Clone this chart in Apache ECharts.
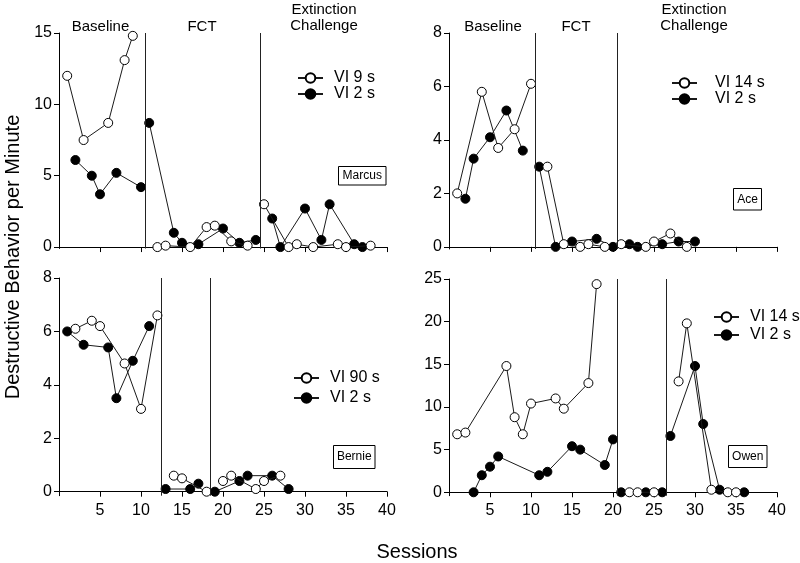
<!DOCTYPE html>
<html>
<head>
<meta charset="utf-8">
<script src="https://cdn.jsdelivr.net/npm/echarts@6/dist/echarts.min.js"></script>
<style>html,body{margin:0;padding:0;background:#fff}#c{width:800px;height:563px}</style>
</head>
<body>
<div id="c"></div>
<script>
// ---- data: [session, destructive behavior per minute] ----
const marcusVI9 = [[1,12.0],[3,7.5],[6,8.7],[8,13.1],[9,14.8],[12,0],[13,0.1],[16,0],[18,1.4],[19,1.5],[21,0.4],[23,0.1],[25,3.0],[28,0],[29,0.2],[31,0],[34,0.2],[35,0],[38,0.1]];
const marcusVI2 = [[2,6.1],[4,5.0],[5,3.7],[7,5.2],[10,4.2],[11,8.7],[14,1.0],[15,0.3],[17,0.2],[20,1.3],[22,0.3],[24,0.5],[26,2.0],[27,0],[30,2.7],[32,0.5],[33,3.0],[36,0.2],[37,0]];
const marcusPhases = [10.5, 24.5];

const aceVI14 = [[1,2.0],[4,5.8],[6,3.7],[8,4.4],[10,6.1],[12,3.0],[14,0.1],[16,0],[17,0.1],[19,0],[21,0.1],[24,0],[25,0.2],[27,0.5],[29,0]];
const aceVI2 = [[2,1.8],[3,3.3],[5,4.1],[7,5.1],[9,3.6],[11,3.0],[13,0],[15,0.2],[18,0.3],[20,0],[22,0.1],[23,0],[26,0.1],[28,0.2],[30,0.2]];
const acePhases = [10.5, 20.5];

const bernieVI90 = [[2,6.1],[4,6.4],[5,6.2],[8,4.8],[10,3.1],[12,6.6],[14,0.6],[15,0.5],[18,0],[20,0.4],[21,0.6],[24,0.1],[25,0.4],[27,0.6]];
const bernieVI2 = [[1,6.0],[3,5.5],[6,5.4],[7,3.5],[9,4.9],[11,6.2],[13,0.1],[16,0.1],[17,0.3],[19,0],[22,0.4],[23,0.6],[26,0.6],[28,0.1]];
const berniePhases = [12.5, 18.5];

const owenVI14 = [[1,6.8],[2,7.0],[7,14.8],[8,8.8],[9,6.8],[10,10.4],[13,11.0],[14,9.8],[17,12.8],[18,24.4],[22,0],[23,0],[25,0],[28,13.0],[29,19.8],[32,0.3],[34,0],[35,0]];
const owenVI2 = [[3,0],[4,2.0],[5,3.0],[6,4.2],[11,2.0],[12,2.4],[15,5.4],[16,5.0],[19,3.2],[20,6.2],[21,0],[24,0],[26,0],[27,6.6],[30,14.8],[31,8.0],[33,0.3],[36,0]];
const owenPhases = [20.5, 26.5];

const xTicks = [5,10,15,20,25,30,35,40];
const yTicksMarcus = [0,5,10,15];
const yTicks8 = [0,2,4,6,8];
const yTicksOwen = [0,5,10,15,20,25];

const phaseLabelsTop = ['Baseline','FCT','Extinction','Challenge'];

// ---- helpers ----
const FONT = '"Liberation Sans", Arial, Helvetica, sans-serif';
function withBreaks(points, phases){
  const out = [];
  let pi = 0;
  points.forEach(p => {
    while (pi < phases.length && p[0] > phases[pi]) { if (out.length) out.push([phases[pi], '-']); pi++; }
    out.push(p);
  });
  return out;
}

const gridsPos = [
  {left:59, top:33, width:328, height:215.5},
  {left:449, top:33, width:328, height:216},
  {left:59, top:278, width:328, height:217.7},
  {left:449, top:279, width:328, height:216.7}
];
const yCfg = [
  {min:-0.1, max:15, ticks:yTicksMarcus},
  {min:-0.08, max:8, ticks:yTicks8},
  {min:-0.15, max:8, ticks:yTicks8},
  {min:-0.4, max:25, ticks:yTicksOwen}
];
const panels = [
  {open:marcusVI9, openName:'VI 9 s', filled:marcusVI2, phases:marcusPhases},
  {open:aceVI14, openName:'VI 14 s', filled:aceVI2, phases:acePhases},
  {open:bernieVI90, openName:'VI 90 s', filled:bernieVI2, phases:berniePhases},
  {open:owenVI14, openName:'VI 14 s', filled:owenVI2, phases:owenPhases}
];

const xAxes = gridsPos.map((g,i)=>({
  type:'value', gridIndex:i, min:0, max:40,
  axisLine:{show:true, lineStyle:{color:'#000', width:1}},
  axisTick:{show:true, customValues:xTicks, length:5, lineStyle:{color:'#000'}},
  axisLabel:{show:i>=2, customValues:xTicks, margin:7, fontSize:16, color:'#000', fontFamily:FONT},
  splitLine:{show:false}
}));
const yAxes = yCfg.map((c,i)=>({
  type:'value', gridIndex:i, min:c.min, max:c.max,
  axisLine:{show:true, lineStyle:{color:'#000', width:1}},
  axisTick:{show:true, customValues:c.ticks, length:5, lineStyle:{color:'#000'}},
  axisLabel:{show:true, customValues:c.ticks, margin:7, fontSize:16, color:'#000', fontFamily:FONT},
  splitLine:{show:false}
}));

const series = [];
panels.forEach((p,i)=>{
  series.push({
    type:'line', name:'VI 2 s', xAxisIndex:i, yAxisIndex:i,
    data: withBreaks(p.filled, p.phases), connectNulls:false,
    symbol:'circle', symbolSize:9,
    lineStyle:{color:'#1a1a1a', width:1},
    itemStyle:{color:'#000', borderColor:'#000', borderWidth:1},
    z:3,
    markLine:{silent:true, symbol:'none', label:{show:false},
      lineStyle:{color:'#222', width:1, type:'solid'},
      emphasis:{disabled:true},
      data:p.phases.map(v=>({xAxis:v}))}
  });
  series.push({
    type:'line', name:p.openName, xAxisIndex:i, yAxisIndex:i,
    data: withBreaks(p.open, p.phases), connectNulls:false,
    symbol:'circle', symbolSize:9,
    lineStyle:{color:'#1a1a1a', width:1},
    itemStyle:{color:'#fff', borderColor:'#000', borderWidth:1},
    z:4
  });
});

function legend(names, left, top, gap, textPad){
  return {orient:'vertical', left:left, top:top, padding:0, itemWidth:25, itemHeight:12, itemGap:gap,
    selectedMode:false, data:names,
    textStyle:{fontSize:16, color:'#000', fontFamily:FONT, padding:[0,0,0,textPad]}};
}

function nameBox(label, x, y, w, h){
  return [
    {type:'rect', shape:{x:x, y:y, width:w, height:h}, style:{fill:'#fff', stroke:'#000', lineWidth:1}, z:10},
    {type:'text', x:x+w/2, y:y+h/2, style:{text:label, fontSize:12, fill:'#000', font:'12px '+FONT, align:'center', verticalAlign:'middle'}, z:11}
  ];
}
function txt(t, x, y, size){
  return {type:'text', x:x, y:y, style:{text:t, fill:'#000', font:size+'px '+FONT, align:'center', verticalAlign:'middle'}};
}

const graphics = [].concat(
  nameBox('Marcus', 338.5, 166.5, 47.5, 18.5),
  nameBox('Ace', 733.5, 188.5, 28, 21.5),
  nameBox('Bernie', 333.5, 445.5, 41.5, 23),
  nameBox('Owen', 728.5, 445.5, 38.5, 22),
  [
    txt(phaseLabelsTop[0], 100.5, 26.5, 15),
    txt(phaseLabelsTop[1], 202, 26.5, 15),
    txt(phaseLabelsTop[2], 324, 9.5, 15),
    txt(phaseLabelsTop[3], 324, 26, 15),
    txt(phaseLabelsTop[0], 493, 26.5, 15),
    txt(phaseLabelsTop[1], 576, 26.5, 15),
    txt(phaseLabelsTop[2], 694, 9.5, 15),
    txt(phaseLabelsTop[3], 694, 26, 15),
    txt('Sessions', 417, 552, 20),
    {type:'text', x:13, y:257, rotation:Math.PI/2,
      style:{text:'Destructive Behavior per Minute', fill:'#000', font:'20px '+FONT, align:'center', verticalAlign:'middle'}}
  ]
);

const chart = echarts.init(document.getElementById('c'), null, {renderer:'canvas'});
chart.setOption({
  animation:false,
  backgroundColor:'#fff',
  grid: gridsPos,
  xAxis: xAxes,
  yAxis: yAxes,
  legend: [
    legend(['VI 9 s','VI 2 s'], 297, 70, 0, 6),
    legend(['VI 14 s','VI 2 s'], 671, 75, 0, 13),
    legend(['VI 90 s','VI 2 s'], 293, 370, 4, 6),
    legend(['VI 14 s','VI 2 s'], 713, 309, 2, 6)
  ],
  series: series,
  graphic: graphics
});
</script>
</body>
</html>
